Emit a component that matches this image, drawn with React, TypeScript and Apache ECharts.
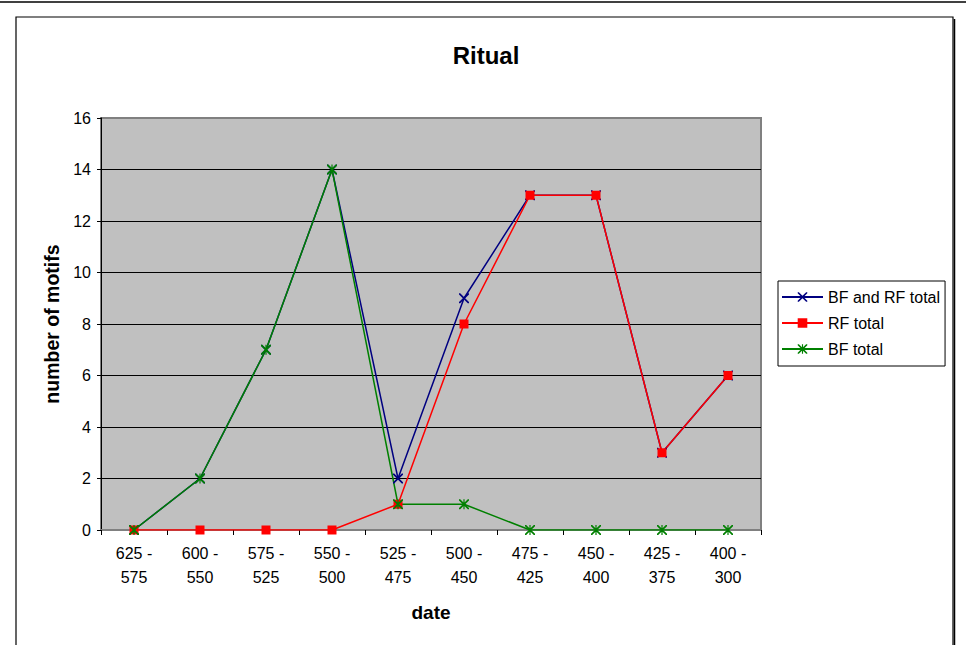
import React, { useEffect, useRef } from "react";
import * as echarts from "echarts";

const categories = ["625 -\n575", "600 -\n550", "575 -\n525", "550 -\n500", "525 -\n475", "500 -\n450", "475 -\n425", "450 -\n400", "425 -\n375", "400 -\n300"];
const bfAndRfTotal = [0, 2, 7, 14, 2, 9, 13, 13, 3, 6];
const rfTotal = [0, 0, 0, 0, 1, 8, 13, 13, 3, 6];
const bfTotal = [0, 2, 7, 14, 1, 1, 0, 0, 0, 0];

const FONT = "'Liberation Sans', Arial, sans-serif";
const CROSS = "path://M0,0 L1.2,0 L5,3.8 L8.8,0 L10,0 L10,1.2 L6.2,5 L10,8.8 L10,10 L8.8,10 L5,6.2 L1.2,10 L0,10 L0,8.8 L3.8,5 L0,1.2 Z";
const STAR = "path://M0,0 L1.2,0 L5,3.8 L8.8,0 L10,0 L10,1.2 L6.2,5 L10,8.8 L10,10 L8.8,10 L5,6.2 L1.2,10 L0,10 L0,8.8 L3.8,5 L0,1.2 Z M4.4,0 L5.6,0 L5.6,10 L4.4,10 Z";

export default function App() {
  const ref = useRef<HTMLDivElement>(null);
  useEffect(() => {
    if (!ref.current) return;
    const chart = echarts.init(ref.current, undefined, { renderer: "svg" });
    chart.setOption({
      animation: false,
      backgroundColor: "#ffffff",
      textStyle: { fontFamily: FONT },
      graphic: [
        { type: "line", shape: { x1: 0, y1: 2, x2: 966, y2: 2 }, style: { stroke: "#000", lineWidth: 1.5 }, silent: true },
        { type: "rect", shape: { x: 16, y: 17, width: 937, height: 700 }, style: { fill: "none", stroke: "#000", lineWidth: 1.2 }, silent: true },
        { type: "line", shape: { x1: 954.5, y1: 19, x2: 954.5, y2: 645 }, style: { stroke: "#000", lineWidth: 1.5 }, silent: true },
      ],
      title: {
        text: "Ritual",
        left: 481,
        top: 38,
        textAlign: "center",
        textStyle: { fontFamily: FONT, fontSize: 24, fontWeight: "bold", color: "#000" },
      },
      legend: {
        orient: "vertical",
        left: 778,
        top: 281,
        padding: [8, 5, 9, 3],
        borderColor: "#000",
        borderWidth: 1,
        itemWidth: 41,
        itemHeight: 12,
        itemGap: 10,
        textStyle: { fontFamily: FONT, fontSize: 16, color: "#000" },
        data: ["BF and RF total", "RF total", "BF total"],
      },
      grid: {
        left: 101,
        top: 118,
        width: 660,
        height: 412,
        show: true,
        backgroundColor: "#C0C0C0",
        borderColor: "#808080",
        borderWidth: 2,
      },
      xAxis: {
        type: "category",
        data: categories,
        boundaryGap: true,
        name: "date",
        nameLocation: "middle",
        nameGap: 73,
        nameTextStyle: { fontFamily: FONT, fontSize: 19, fontWeight: "bold", color: "#000" },
        axisLine: { show: true, lineStyle: { color: "#808080", width: 2 } },
        axisTick: { show: true, alignWithLabel: false, length: 5, lineStyle: { color: "#000" } },
        axisLabel: { fontFamily: FONT, fontSize: 16, color: "#000", lineHeight: 24, margin: 11, interval: 0 },
        splitLine: { show: false },
      },
      yAxis: {
        type: "value",
        min: 0,
        max: 16,
        interval: 2,
        name: "number of motifs",
        nameLocation: "middle",
        nameGap: 38,
        nameTextStyle: { fontFamily: FONT, fontSize: 19.5, fontWeight: "bold", color: "#000" },
        axisLine: { show: true, lineStyle: { color: "#000", width: 1 } },
        axisTick: { show: true, length: 4, lineStyle: { color: "#000" } },
        axisLabel: { fontFamily: FONT, fontSize: 16, color: "#000", margin: 10 },
        splitLine: { show: true, showMinLine: false, showMaxLine: false, lineStyle: { color: "#000", width: 1 } },
      },
      series: [
        {
          name: "BF and RF total",
          type: "line",
          data: bfAndRfTotal,
          symbol: CROSS,
          symbolSize: 10,
          lineStyle: { color: "#000080", width: 1.5 },
          itemStyle: { color: "#000080" },
        },
        {
          name: "RF total",
          type: "line",
          data: rfTotal,
          symbol: "rect",
          symbolSize: 9,
          lineStyle: { color: "#FF0000", width: 1.5 },
          itemStyle: { color: "#FF0000" },
        },
        {
          name: "BF total",
          type: "line",
          data: bfTotal,
          symbol: STAR,
          symbolSize: 10,
          lineStyle: { color: "#008000", width: 1.5 },
          itemStyle: { color: "#008000" },
        },
      ],
    });
    return () => chart.dispose();
  }, []);
  return <div ref={ref} style={{ position: "fixed", left: 0, top: 0, width: 966, height: 645 }} />;
}
